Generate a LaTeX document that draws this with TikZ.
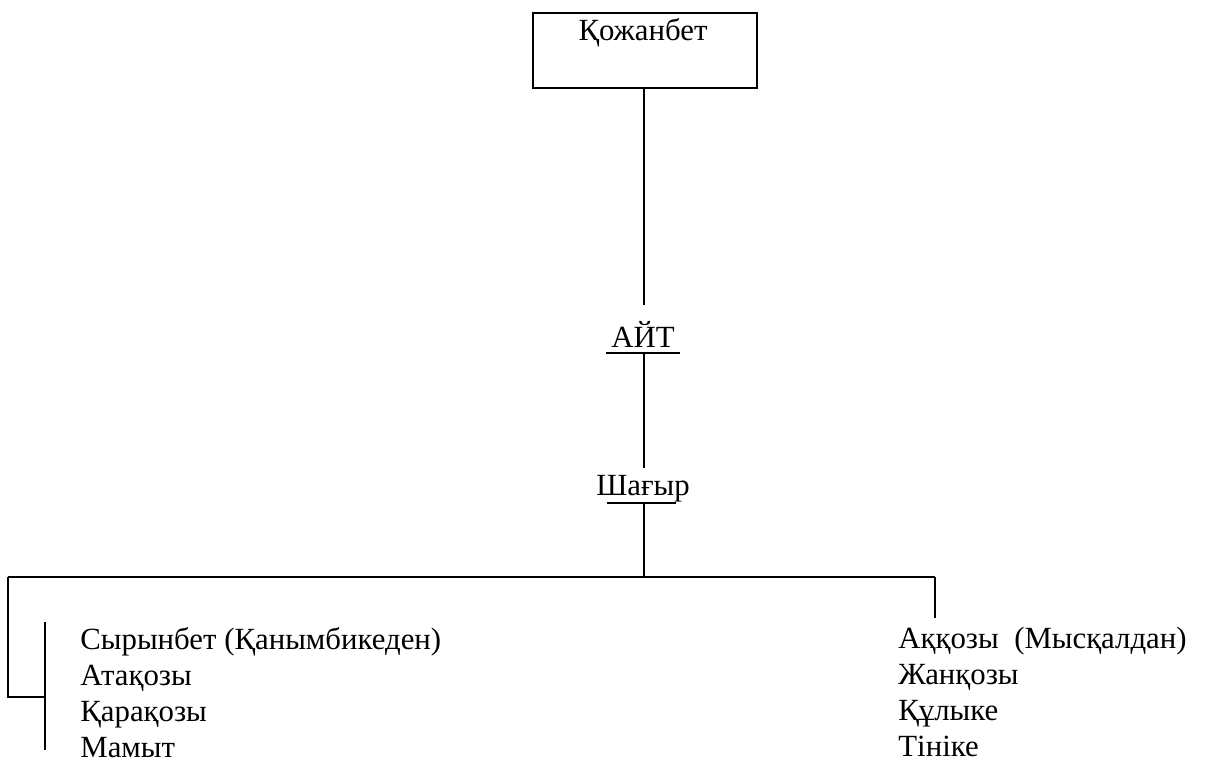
\documentclass[tikz,border=0pt]{standalone}
\usepackage{fontspec}
\setmainfont{Liberation Serif}
\usetikzlibrary{positioning}
\tikzset{
  person/.style={inner sep=0pt, font=\fontsize{15.4}{18}\selectfont},
  heir/.style={person, anchor=base},
  kids/.style={person, align=left, anchor=north west},
  link/.style={line width=1.1pt}
}

\begin{document}
\begin{tikzpicture}[x=0.5pt, y=-0.5pt]
  \useasboundingbox (0,0) rectangle (1224,765);
  % root box
  \node[draw, line width=1.1pt, minimum width=112pt, minimum height=37.5pt,
        inner sep=0pt] (kozh) at (645,50.5) {};
  \node[heir] (kozhname) at (643,41) {Қожанбет};
  % heirs
  \node[heir] (ait) at (643,347) {АЙТ};
  \node[heir] (shagyr) at (643,495) {Шағыр};
  \draw[link] ([shift={(-37,6)}]ait.base) coordinate (aitl) -- ([shift={(37,6)}]ait.base);
  \draw[link] ([shift={(-36,8)}]shagyr.base) coordinate (shagl) -- ([shift={(33,8)}]shagyr.base);
  \coordinate (aitu) at (644,305);
  \coordinate (shagu) at (644,468);
  \draw[link] (kozh.south -| aitu) -- (aitu);
  \draw[link] (aitl -| aitu) -- (shagu);
  % branch
  \coordinate (fork) at (644,577);
  \coordinate (leftend) at (8,577);
  \coordinate (rightend) at (935,577);
  \draw[link] (shagl -| fork) -- (fork);
  \draw[link] (leftend) -- (rightend);
  \draw[link] (leftend) -- (8,697) -- (45,697);
  \draw[link] (45,622) -- (45,750);
  \draw[link] (rightend) -- (935,618);
  % children
  \node[kids] (leftkids) at (80,627) {Сырынбет (Қанымбикеден)\\Атақозы\\Қарақозы\\Мамыт};
  \node[kids] (rightkids) at (898,627) {Аққозы \ (Мысқалдан)\\Жанқозы\\Құлыке\\Тініке};
\end{tikzpicture}
\end{document}
